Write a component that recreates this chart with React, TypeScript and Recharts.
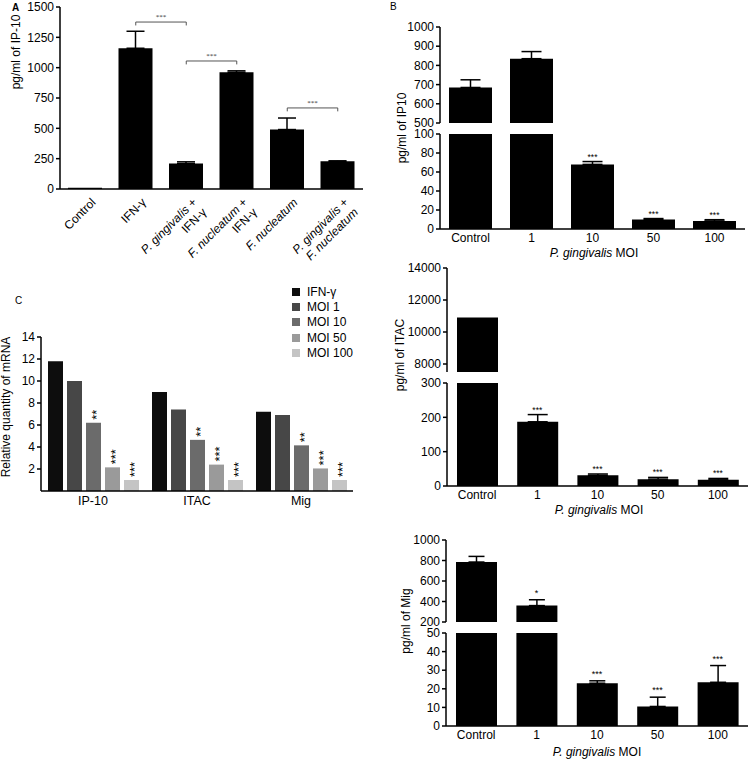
import React from 'react';
import { BarChart, Bar, XAxis, YAxis, ErrorBar, ReferenceLine, ReferenceDot, LabelList, Legend } from 'recharts';

const FONT = '"Liberation Sans", Arial, Helvetica, sans-serif';

// ---------- Panel A ----------
const aCategories = ['Control', 'IFN-γ', 'P. gingivalis + IFN-γ', 'F. nucleatum + IFN-γ', 'F. nucleatum', 'P. gingivalis + F. nucleatum'];
const aValues = [10, 1160, 210, 962, 490, 228];
const aErrors = [0, 140, 14, 12, 95, 4];
const aTicks = [0, 250, 500, 750, 1000, 1250, 1500];
const aBracketFrom = [1, 2, 4];
const aBracketTo = [2, 3, 5];
const aBracketY = [1376, 1055, 668];
const aBracketDrop = 28;
const aBracketLabel = ['***', '***', '***'];

// ---------- Panel B ----------
const bCategories = ['Control', '1', '10', '50', '100'];

const ip10Values = [685, 835, 68, 10, 8.5];
const ip10Errors = [40, 37, 3, 1, 1.3];
const ip10Sig = ['', '', '***', '***', '***'];
const ip10UpperTicks = [500, 600, 700, 800, 900, 1000];
const ip10LowerTicks = [0, 20, 40, 60, 80, 100];

const itacValues = [10900, 187, 31, 20, 18];
const itacErrors = [0, 21, 4, 5, 4];
const itacSig = ['', '***', '***', '***', '***'];
const itacUpperTicks = [8000, 10000, 12000, 14000];
const itacUpperMin = 7500;
const itacLowerTicks = [0, 100, 200, 300];

const migValues = [785, 360, 23, 10.5, 23.5];
const migErrors = [55, 57, 1.3, 5, 9];
const migSig = ['', '*', '***', '***', '***'];
const migUpperTicks = [200, 400, 600, 800, 1000];
const migLowerTicks = [0, 10, 20, 30, 40, 50];

// ---------- Panel C ----------
const cGenes = ['IP-10', 'ITAC', 'Mig'];
const cSeriesNames = ['IFN-γ', 'MOI 1', 'MOI 10', 'MOI 50', 'MOI 100'];
const cIfn = [11.8, 9.0, 7.2];
const cMoi1 = [10.0, 7.4, 6.9];
const cMoi10 = [6.2, 4.65, 4.15];
const cMoi50 = [2.15, 2.4, 2.05];
const cMoi100 = [1.0, 1.0, 1.0];
const cSig = ['', '', '**', '***', '***'];
const cColors = ['#0d0d0d', '#474747', '#6b6b6b', '#9a9a9a', '#c4c4c4'];
const cTicks = [2, 4, 6, 8, 10, 12, 14];

const YW = 60;

const tickStyle = { fontSize: 12, fill: '#000', fontFamily: FONT };
const axisLine = { stroke: '#000', strokeWidth: 1.5 };

function Box(props: any) {
  const { L, R, T, B, xh = 0, mt = 10, mb = 0, data, children, barGap } = props;
  const width = YW + (R - L) + 4;
  const height = mt + (B - T) + xh + mb;
  return (
    <div style={{ position: 'absolute', left: L - YW, top: T - mt }}>
      <BarChart width={width} height={height} data={data} barGap={barGap}
        margin={{ top: mt, right: 4, bottom: mb, left: 0 }}>
        {children}
      </BarChart>
    </div>
  );
}

function yAxis(domain: number[], ticks: number[]) {
  return (
    <YAxis type="number" domain={domain} ticks={ticks} interval={0} allowDataOverflow width={YW}
      tickSize={4} tickMargin={2} tick={tickStyle} axisLine={axisLine}
      tickLine={{ stroke: '#000', strokeWidth: 1.5 }} />
  );
}

const starShape = (label: string, fs: number, gap: number) => (p: any) => (
  <text x={p.cx} y={p.cy - gap} textAnchor="middle" fontSize={fs} fontFamily={FONT} fill="#000">{label}</text>
);

function ATick(props: any) {
  const { x, y, payload } = props;
  const parts = String(payload.value).split(' + ');
  const seg = (s: string) => (/^[PF]\. /.test(s) ? <tspan fontStyle="italic">{s}</tspan> : <tspan>{s}</tspan>);
  const common = { textAnchor: 'end' as const, fontSize: 12, fontFamily: FONT, fill: '#000' };
  return (
    <g transform={`translate(${x + 5},${y + 8}) rotate(-45)`}>
      <text x={0} y={0} dy="0.72em" {...common}>{seg(parts[0])}{parts.length > 1 ? <tspan> +</tspan> : null}</text>
      {parts.length > 1 ? <text x={0} y={14} dy="0.72em" {...common}>{seg(parts[1])}</text> : null}
    </g>
  );
}

function PanelA() {
  const rows = aCategories.map((c, i) => ({ cat: c, v: aValues[i], e: aErrors[i] > 0 ? [0, aErrors[i]] : null }));
  return (
    <Box L={60} R={363} T={7} B={189} xh={100} data={rows}>
      <XAxis dataKey="cat" interval={0} tickLine={false} tickSize={0} tickMargin={0} axisLine={axisLine} tick={<ATick />} height={100} />
      {yAxis([0, 1500], aTicks)}
      <Bar dataKey="v" fill="#000" barSize={34} isAnimationActive={false}>
        <ErrorBar dataKey="e" width={9} stroke="#000" strokeWidth={1.5} direction="y" />
      </Bar>
      {aBracketFrom.map((f, i) => {
        const a = aCategories[f];
        const b = aCategories[aBracketTo[i]];
        const y = aBracketY[i];
        return [
          <ReferenceLine key={'h' + i} segment={[{ x: a, y }, { x: b, y }]} stroke="#555" strokeWidth={1}
            label={{ value: aBracketLabel[i], position: 'top', fontSize: 7, fill: '#333', offset: 3 }} />,
          <ReferenceLine key={'l' + i} segment={[{ x: a, y }, { x: a, y: y - aBracketDrop }]} stroke="#555" strokeWidth={1} />,
          <ReferenceLine key={'r' + i} segment={[{ x: b, y }, { x: b, y: y - aBracketDrop }]} stroke="#555" strokeWidth={1} />,
        ];
      })}
    </Box>
  );
}

function BrokenPanel(props: any) {
  const { values, errors, sig, L, R, upper, lower, upperDomain, upperTicks, lowerDomain, lowerTicks, barSize, capW, starFs, starGap } = props;
  const upRows = bCategories.map((c, i) => ({
    cat: c,
    v: values[i] >= upperDomain[0] ? values[i] : null,
    e: values[i] >= upperDomain[0] && errors[i] > 0 ? [0, errors[i]] : null,
  }));
  const loRows = bCategories.map((c, i) => ({
    cat: c,
    v: values[i],
    e: values[i] <= lowerDomain[1] && errors[i] > 0 ? [0, errors[i]] : null,
  }));
  const stars = bCategories.map((c, i) => ({ cat: c, top: values[i] + errors[i], s: sig[i] })).filter((d) => d.s);
  const upStars = stars.filter((d) => d.top > lowerDomain[1]);
  const loStars = stars.filter((d) => d.top <= lowerDomain[1]);
  return (
    <>
      <Box L={L} R={R} T={upper[0]} B={upper[1]} mb={8} data={upRows}>
        <XAxis dataKey="cat" hide />
        {yAxis(upperDomain, upperTicks)}
        <Bar dataKey="v" fill="#000" barSize={barSize} isAnimationActive={false}>
          <ErrorBar dataKey="e" width={capW} stroke="#000" strokeWidth={1.5} direction="y" />
        </Bar>
        {upStars.map((d) => (
          <ReferenceDot key={d.cat} x={d.cat} y={d.top} r={0} ifOverflow="visible" shape={starShape(d.s, starFs, starGap)} />
        ))}
      </Box>
      <Box L={L} R={R} T={lower[0]} B={lower[1]} xh={24} data={loRows}>
        <XAxis dataKey="cat" interval={0} tickLine={false} tickSize={0} tickMargin={4} axisLine={axisLine} tick={tickStyle} height={24} />
        {yAxis(lowerDomain, lowerTicks)}
        <Bar dataKey="v" fill="#000" barSize={barSize} isAnimationActive={false}>
          <ErrorBar dataKey="e" width={capW} stroke="#000" strokeWidth={1.5} direction="y" />
        </Bar>
        {loStars.map((d) => (
          <ReferenceDot key={d.cat} x={d.cat} y={d.top} r={0} ifOverflow="visible" shape={starShape(d.s, starFs, starGap)} />
        ))}
      </Box>
    </>
  );
}

// Vertical (rotated) significance stars above a bar
function VStar(props: any) {
  const vb = props.viewBox || props;
  const { x, y, width } = vb;
  const value = props.value;
  if (!value) return null;
  const cx = x + width / 2;
  return (
    <g opacity={0.995}>
      <text transform={`translate(${cx},${y - 3}) rotate(-90)`} dy="0.56em" textAnchor="start"
        fontSize={13} fontFamily={FONT} fill="#000" stroke="none">
        {value}
      </text>
    </g>
  );
}

function LegendBox(props: any) {
  const payload = props.payload || [];
  return (
    <div style={{ fontFamily: FONT, fontSize: 12, color: '#000' }}>
      {payload.map((e: any) => (
        <div key={e.value} style={{ display: 'flex', alignItems: 'center', height: 15.3 }}>
          <span style={{ display: 'inline-block', width: 8, height: 8, background: e.color, marginRight: 7 }} />
          <span>{e.value}</span>
        </div>
      ))}
    </div>
  );
}

function PanelC() {
  const series = [cIfn, cMoi1, cMoi10, cMoi50, cMoi100];
  const rows = cGenes.map((g, gi) => {
    const r: any = { gene: g };
    series.forEach((s, si) => {
      r['s' + si] = s[gi];
      r['g' + si] = cSig[si];
    });
    return r;
  });
  const L = 41, T = 337, mt = 10;
  return (
    <Box L={L} R={353} T={T} B={491} xh={24} data={rows} barGap={4} mt={mt}>
      <XAxis dataKey="gene" interval={0} tickLine={false} tickSize={0} tickMargin={5} axisLine={axisLine} tick={{ ...tickStyle, fontSize: 12.5 }} height={24} />
      {yAxis([0, 14], cTicks)}
      <Legend layout="vertical" align="center" verticalAlign="middle" itemSorter="dataKey" content={<LegendBox />}
        wrapperStyle={{ left: 292 - (L - YW), top: 284 - (T - mt), width: 80 }} />
      {series.map((_, si) => (
        <Bar key={si} dataKey={'s' + si} name={cSeriesNames[si]} fill={cColors[si]} barSize={15} isAnimationActive={false}>
          <LabelList dataKey={'g' + si} content={<VStar />} />
        </Bar>
      ))}
    </Box>
  );
}

function Overlay() {
  const t = { fontFamily: FONT, fill: '#000' };
  const vt = (x: number, y: number, s: string) => (
    <text transform={`translate(${x},${y}) rotate(-90)`} textAnchor="middle" dy="0.35em" fontSize={12} {...t}>{s}</text>
  );
  const moi = (x: number, y: number) => (
    <text x={x} y={y} textAnchor="middle" dy="0.35em" fontSize={12} {...t}>
      <tspan fontStyle="italic">P. gingivalis</tspan> MOI
    </text>
  );
  return (
    <svg width={750} height={760} style={{ position: 'absolute', left: 0, top: 0, pointerEvents: 'none' }}>
      <text x={12} y={11} fontSize={10} fontWeight="bold" {...t}>A</text>
      <text x={390} y={10} fontSize={10} {...t}>B</text>
      <text x={15} y={304} fontSize={10} {...t}>C</text>
      {vt(15.5, 52, 'pg/ml of IP-10')}
      {vt(402, 128, 'pg/ml of IP10')}
      {vt(400, 355, 'pg/ml of ITAC')}
      {vt(406, 621, 'pg/ml of Mig')}
      {vt(6, 407, 'Relative quantity of mRNA')}
      {moi(594, 253)}
      {moi(599, 510)}
      {moi(597, 752)}
    </svg>
  );
}

export default function App() {
  return (
    <div style={{ position: 'absolute', left: 0, top: 0, width: 750, height: 760, background: '#fff', overflow: 'hidden' }}>
      <PanelA />
      <BrokenPanel values={ip10Values} errors={ip10Errors} sig={ip10Sig} L={440} R={745}
        upper={[27, 123]} lower={[134, 229]} upperDomain={[500, 1000]} upperTicks={ip10UpperTicks}
        lowerDomain={[0, 100]} lowerTicks={ip10LowerTicks} barSize={43} capW={10} starFs={8.5} starGap={1.5} />
      <BrokenPanel values={itacValues} errors={itacErrors} sig={itacSig} L={447} R={748}
        upper={[268, 372]} lower={[383, 486]} upperDomain={[itacUpperMin, 14000]} upperTicks={itacUpperTicks}
        lowerDomain={[0, 300]} lowerTicks={itacLowerTicks} barSize={41} capW={10} starFs={8.5} starGap={2} />
      <BrokenPanel values={migValues} errors={migErrors} sig={migSig} L={446} R={748}
        upper={[540, 622]} lower={[633, 726]} upperDomain={[200, 1000]} upperTicks={migUpperTicks}
        lowerDomain={[0, 50]} lowerTicks={migLowerTicks} barSize={41} capW={8} starFs={9} starGap={4} />
      <PanelC />
      <Overlay />
    </div>
  );
}
